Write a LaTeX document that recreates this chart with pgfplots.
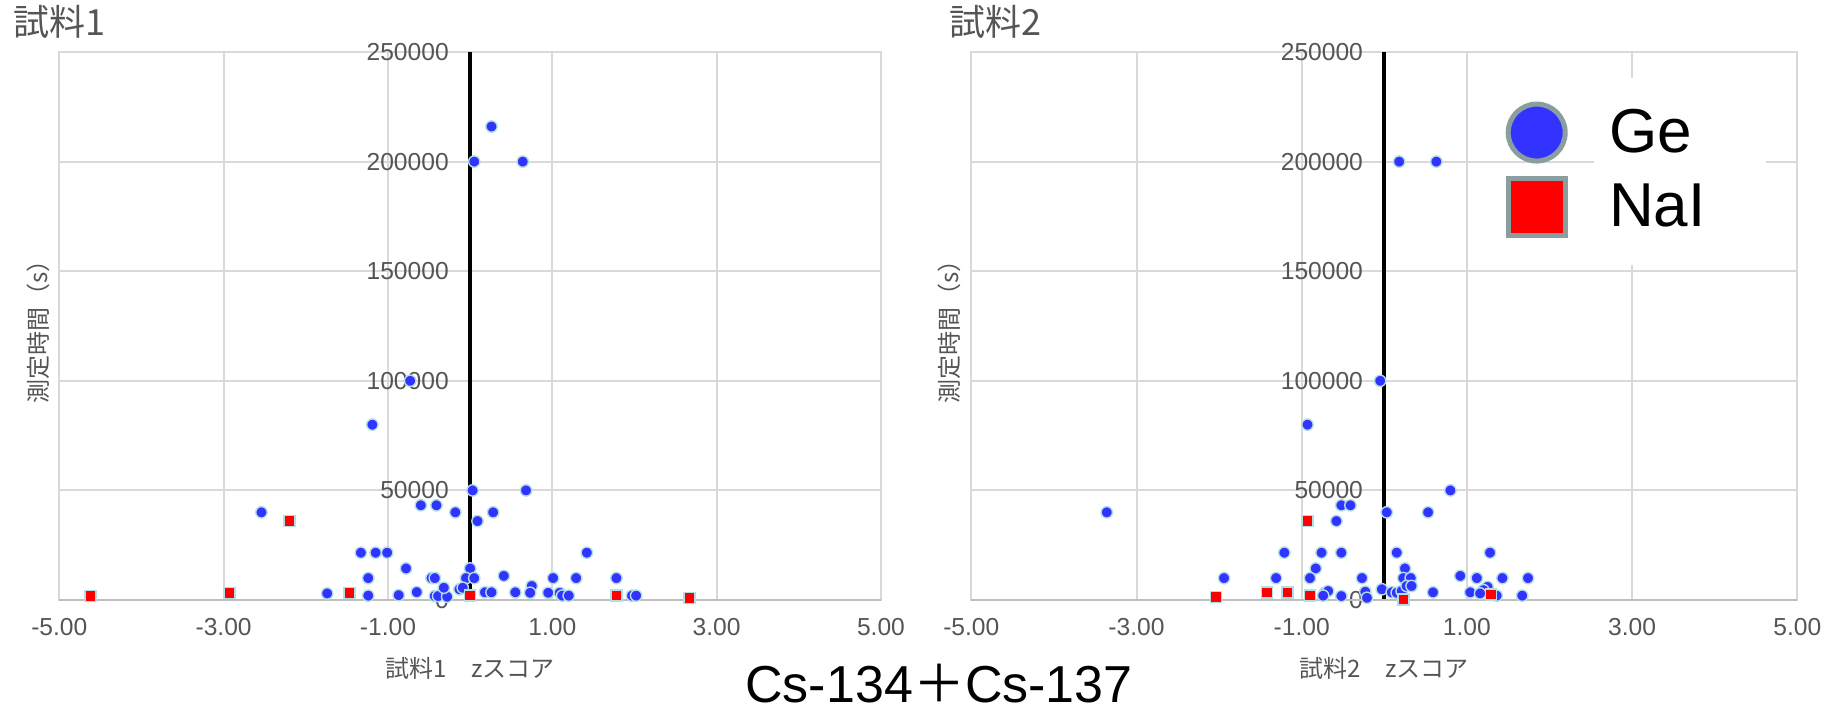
\documentclass[border=0pt]{standalone}
\usepackage{fontspec}
\setmainfont{Liberation Sans}
\newfontfamily\jp{Noto Sans CJK JP}
\usepackage{pgfplots}
\pgfplotsset{compat=1.18}
\definecolor{geblue}{RGB}{51,51,255}
\definecolor{nared}{RGB}{255,0,0}
\definecolor{mkedge}{RGB}{176,224,230}
\definecolor{lgedge}{RGB}{138,158,160}
\definecolor{gridc}{RGB}{217,217,217}
\definecolor{basec}{RGB}{190,190,190}
\definecolor{txtc}{RGB}{85,85,85}

\pgfplotstableread{
z y
0.26 216000
0.05 200000
0.64 200000
-0.73 100000
-1.19 80000
-2.54 40000
-0.60 43200
-0.41 43200
-0.18 40000
0.03 50000
0.09 36000
0.28 40000
0.68 50000
-1.33 21600
-1.15 21600
-1.01 21600
1.42 21600
-0.78 14400
0.00 14400
-1.24 10000
-0.47 10000
-0.43 10000
-0.05 10000
0.05 10000
0.41 11000
1.01 10000
1.29 10000
1.78 10000
-1.74 3000
-1.24 2000
-0.87 2200
-0.65 3600
-0.43 1800
-0.39 1800
-0.28 1500
-0.32 5600
-0.13 4900
-0.09 5600
0.18 3500
0.26 3500
0.55 3500
0.75 6400
0.73 3300
0.95 3300
1.09 3300
1.12 2000
1.20 2000
1.97 2000
2.02 2000
}\geA

\pgfplotstableread{
z y
-4.62 1800
-2.93 3300
-2.20 36000
-1.47 3300
0.00 2000
1.78 2000
2.67 1000
}\naiA

\pgfplotstableread{
z y
0.18 200000
0.63 200000
-0.05 100000
-0.93 80000
-3.36 40000
-0.52 43200
-0.41 43200
-0.58 36000
0.03 40000
0.53 40000
0.80 50000
-1.21 21600
-0.76 21600
-0.52 21600
0.15 21600
1.28 21600
-0.83 14400
0.25 14400
-1.94 10000
-1.31 10000
-0.90 10000
-0.27 10000
0.23 10000
0.32 10000
0.92 11000
1.12 10000
1.43 10000
1.74 10000
-0.72 3300
-0.68 4100
-0.74 2000
-0.52 1800
-0.23 3800
-0.21 1000
-0.03 4900
0.09 3500
0.15 3300
0.21 4100
0.27 6400
0.33 6400
0.59 3500
1.04 3500
1.25 6000
1.20 4500
1.36 2000
1.16 3000
1.67 2000
}\geB

\pgfplotstableread{
z y
-2.04 1500
-1.42 3500
-1.17 3500
-0.93 36000
-0.90 2000
0.23 300
1.29 2500
}\naiB

\pgfplotsset{
  chartstyle/.style={
    scale only axis, width=#1, height=274pt,
    xmin=-5, xmax=5, ymin=0, ymax=250000,
    scaled y ticks=false, scaled x ticks=false,
    xtick={-5,-3,-1,1,3,5},
    xticklabels={-5.00,-3.00,-1.00,1.00,3.00,5.00},
    ytick={0,50000,100000,150000,200000,250000},
    yticklabels={0,50000,100000,150000,200000,250000},
    grid=major, major grid style={draw=gridc, line width=1pt},
    major tick length=0pt,
    axis line style={draw=gridc, line width=1pt},
    tick label style={font=\fontsize{12.3}{12.3}\selectfont, text=txtc, inner sep=0pt},
    xticklabel style={anchor=center, yshift=-13.5pt},
    extra x ticks={0}, extra x tick labels={},
    extra x tick style={grid=major, major grid style={draw=black, line width=2pt}},
    extra y ticks={0}, extra y tick labels={},
    extra y tick style={grid=major, major grid style={draw=basec, line width=1.2pt}},
    every axis x label/.style={at={(axis description cs:0.5,-0.124)}, anchor=center, font=\jp\fontsize{12}{12}\selectfont, text=txtc},
    every axis y label/.style={at={(axis description cs:-0.026,0.5)}, rotate=90, anchor=center, font=\jp\fontsize{12}{12}\selectfont, text=txtc},
  },
  ge/.style={only marks, mark=*, mark size=2.85pt, mark options={draw=mkedge, fill=geblue, line width=0.7pt}},
  nai/.style={only marks, mark=square*, mark size=2.75pt, mark options={draw=mkedge, fill=nared, line width=0.7pt}},
}

\begin{document}
\begin{tikzpicture}
\path[use as bounding box] (0,0) rectangle (916pt,357pt);

\begin{axis}[chartstyle=410.85pt, at={(29.65pt,57pt)}, anchor=south west,
  yticklabel style={anchor=east, xshift=194.9pt},
  xlabel={試料1　zスコア}, ylabel={測定時間（s）}]
\addplot[ge] table[x=z,y=y] {\geA};
\addplot[nai] table[x=z,y=y] {\naiA};
\end{axis}

\begin{axis}[chartstyle=413pt, at={(485.65pt,57pt)}, anchor=south west,
  yticklabel style={anchor=east, xshift=196pt},
  xlabel={試料2　zスコア}, ylabel={測定時間（s）},
  legend image code/.code={\draw[#1] plot coordinates {(0pt,0pt)};},
  legend cell align=left,
  legend style={draw=none, fill=none, inner sep=0pt, outer sep=0pt,
    at={(rel axis cs:0.650,0.905)}, anchor=north west,
    font=\fontsize{31}{31}\selectfont, row sep=8.5pt, column sep=22pt,
    nodes={inner sep=0pt}}]
\fill[white] (axis cs:2.54,152800) rectangle (axis cs:4.62,238100);
\addplot[ge, forget plot] table[x=z,y=y] {\geB};
\addplot[nai, forget plot] table[x=z,y=y] {\naiB};
\addlegendimage{only marks, mark=*, mark size=14.25pt, mark options={draw=lgedge, fill=geblue, line width=2.5pt}}
\addlegendentry{Ge}
\addlegendimage{only marks, mark=square*, mark size=14.25pt, mark options={draw=lgedge, fill=nared, line width=2.5pt}}
\addlegendentry{NaI}
\end{axis}

\node[anchor=west, font=\jp\fontsize{18}{18}\selectfont, text=txtc, inner sep=0pt] at (6.5pt,346pt) {試料1};
\node[anchor=west, font=\jp\fontsize{18}{18}\selectfont, text=txtc, inner sep=0pt] at (474.5pt,346pt) {試料2};
\node[font=\fontsize{26}{26}\selectfont, inner sep=0pt] at (469.5pt,15pt) {Cs-134{\jp ＋}Cs-137};
\end{tikzpicture}
\end{document}
